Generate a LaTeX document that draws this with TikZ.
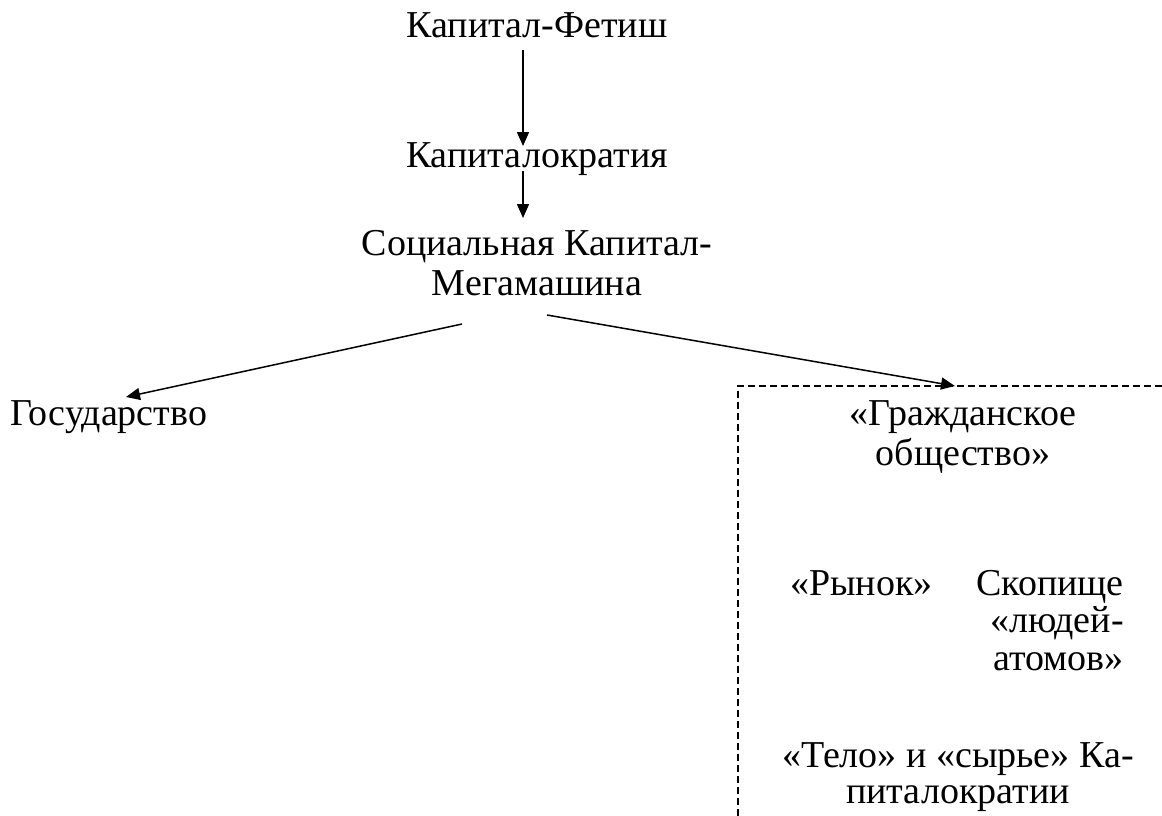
\documentclass[tikz,border=0pt]{standalone}
\usepackage{fontspec}
\setmainfont{Liberation Serif}
\newfontfamily\tnr{Liberation Serif}
\usetikzlibrary{arrows.meta}
\begin{document}
\begin{tikzpicture}[x=1pt,y=-1pt,
  lbl/.style={inner sep=0pt,font=\tnr\fontsize{38}{40}\selectfont},
  arr/.style={line width=1.5pt,-{Triangle[length=14pt,width=12pt]}},
  frame/.style={line width=1.2pt,dash pattern=on 7pt off 4pt}]
\useasboundingbox (0,0) rectangle (1162,816);
\node[lbl,anchor=base] (fetish) at (537,38) {Капитал-Фетиш};
\node[lbl,anchor=base] (kapkr) at (537,167) {Капиталократия};
\node[lbl,anchor=base,align=center] (mega) at (537,295) {Социальная Капитал-\\Мегамашина};
\node[lbl,anchor=base west] (gos) at (10,425) {Государство};
\node[lbl,anchor=base,align=center] (civ) at (963,465) {«Гражданское\\общество»};
\node[lbl,anchor=base west] (market) at (790,595) {«Рынок»};
\node[lbl,anchor=base east,align=right,font=\tnr\fontsize{38}{37.5}\selectfont] (crowd) at (1124,670) {Скопище\\«людей-\\атомов»};
\node[lbl,anchor=base,align=center,font=\tnr\fontsize{38}{36}\selectfont] (body) at (958,803) {«Тело» и «сырье» Ка-\\питалократии};
\coordinate (a1s) at (523,50);
\coordinate (a1e) at (523,146);
\coordinate (a2s) at (523,171);
\coordinate (a2e) at (523,218);
\coordinate (l1) at (462,324);
\coordinate (l2) at (126,397);
\coordinate (r1) at (547,315);
\coordinate (r2) at (955,386);
\draw[arr] (a1s) -- (a1e);
\draw[arr] (a2s) -- (a2e);
\draw[arr] (l1) -- (l2);
\draw[arr] (r1) -- (r2);
\coordinate (fr1) at (1162,386);
\coordinate (fr2) at (738,386);
\coordinate (fr3) at (738,816);
\draw[frame] (fr1) -- (fr2) -- (fr3);
\end{tikzpicture}
\end{document}
